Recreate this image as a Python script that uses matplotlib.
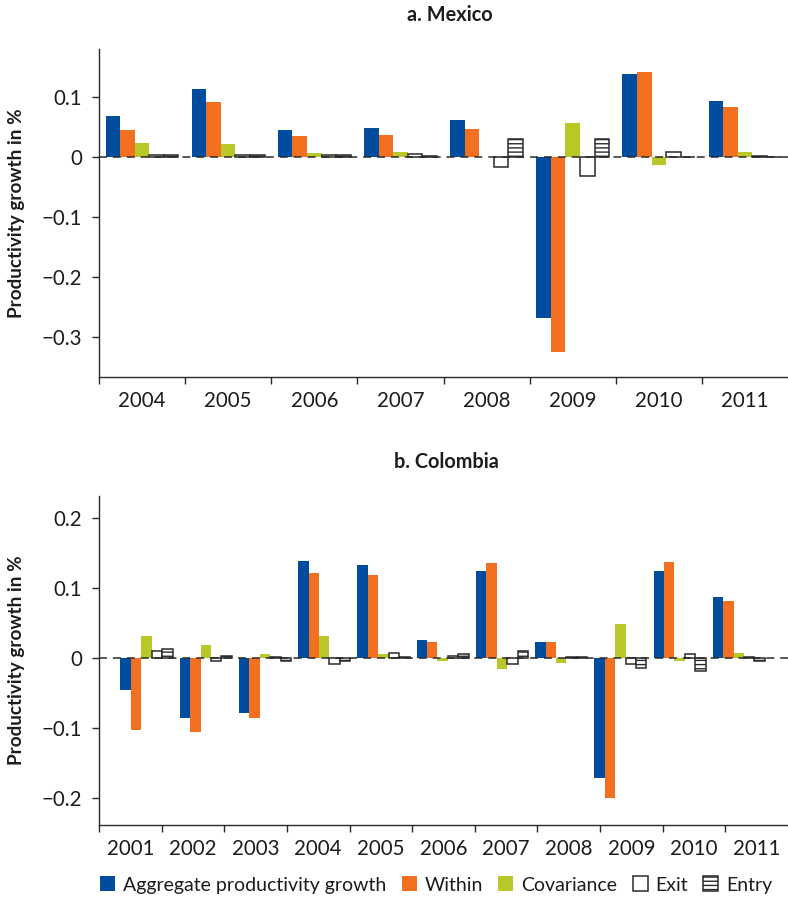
import numpy as np
import matplotlib
matplotlib.use("Agg")
import matplotlib.pyplot as plt
from matplotlib.ticker import FuncFormatter

# decomposition of productivity growth, by year
mex_years = ["2004", "2005", "2006", "2007", "2008", "2009", "2010", "2011"]
mex_agg = [0.068, 0.113, 0.045, 0.049, 0.061, -0.268, 0.138, 0.093]
mex_within = [0.045, 0.091, 0.035, 0.037, 0.047, -0.325, 0.141, 0.083]
mex_cov = [0.023, 0.021, 0.007, 0.009, 0.0, 0.057, -0.014, 0.008]
mex_exit = [0.003, 0.003, 0.003, 0.005, -0.016, -0.032, 0.008, 0.002]
mex_entry = [0.003, 0.003, 0.003, 0.002, 0.030, 0.030, 0.0, 0.0]

col_years = ["2001", "2002", "2003", "2004", "2005", "2006",
             "2007", "2008", "2009", "2010", "2011"]
col_agg = [-0.046, -0.086, -0.079, 0.139, 0.133, 0.025, 0.124, 0.023, -0.171, 0.124, 0.087]
col_within = [-0.103, -0.106, -0.086, 0.121, 0.119, 0.023, 0.135, 0.023, -0.200, 0.137, 0.081]
col_cov = [0.032, 0.019, 0.006, 0.032, 0.006, -0.005, -0.016, -0.007, 0.049, -0.005, 0.007]
col_exit = [0.010, -0.005, 0.002, -0.009, 0.007, 0.003, -0.009, 0.002, -0.009, 0.005, 0.002]
col_entry = [0.013, 0.003, -0.005, -0.005, 0.002, 0.005, 0.010, 0.002, -0.014, -0.019, -0.005]

labels = ["Aggregate productivity growth", "Within", "Covariance", "Exit", "Entry"]

BLUE = "#004c9f"
ORANGE = "#f37021"
GREEN = "#b9c828"
DARK = "#2a2a2a"
TEXT = "#1e1b1c"

plt.rcParams["font.family"] = ["Lato", "DejaVu Sans"]
plt.rcParams["hatch.linewidth"] = 1.0
plt.rcParams["hatch.color"] = DARK


def fmt(v, pos):
    if abs(v) < 1e-9:
        return "0"
    return ("%g" % round(v, 2)).replace("-", "\u2212")


def draw_panel(ax, years, series, slots, width, ylim, yticks):
    styles = [dict(color=BLUE), dict(color=ORANGE), dict(color=GREEN),
              dict(facecolor="white", edgecolor=DARK, linewidth=1.1),
              dict(facecolor="white", edgecolor=DARK, linewidth=1.1, hatch="----")]
    for k, (vals, st) in enumerate(zip(series, styles)):
        ax.bar(slots + (k - 2) * width, vals, width, label=labels[k], zorder=2, **st)

    n = len(years)
    ax.axhline(0, color=DARK, lw=1.1, dashes=(5.2, 3.9), zorder=3)
    ax.set_xlim(-0.5, n - 0.5)
    ax.set_ylim(*ylim)
    ax.set_yticks(yticks)
    ax.yaxis.set_major_formatter(FuncFormatter(fmt))

    ax.set_xticks(np.arange(n))
    ax.set_xticklabels(years)
    ax.set_xticks(np.arange(n) - 0.5, minor=True)
    ax.tick_params(axis="x", which="major", length=0, pad=10, labelsize=14.8, colors=TEXT)
    ax.tick_params(axis="x", which="minor", length=5, width=1.0, direction="out", color=DARK)
    ax.tick_params(axis="y", length=5, width=1.0, pad=7, labelsize=14.8, colors=TEXT)
    ax.tick_params(axis="y", color=DARK)

    for s in ["top", "right"]:
        ax.spines[s].set_visible(False)
    for s in ["left", "bottom"]:
        ax.spines[s].set_color(DARK)
        ax.spines[s].set_linewidth(1.0)

    ax.set_ylabel("Productivity growth in %", fontsize=13.6, fontweight="bold", color=TEXT)
    ax.yaxis.set_label_coords(-0.1074, 0.5)


def main():
    fig = plt.figure(figsize=(7.88, 8.98), dpi=100)
    left, width = 99 / 788, 689 / 788
    ax1 = fig.add_axes([left, 1 - 377 / 898, width, 328 / 898])
    ax2 = fig.add_axes([left, 1 - 825 / 898, width, 329 / 898])

    draw_panel(ax1, mex_years,
               [mex_agg, mex_within, mex_cov, mex_exit, mex_entry],
               np.arange(len(mex_years)), 0.169,
               (-0.3667, 0.18), [-0.3, -0.2, -0.1, 0, 0.1])

    # Colombian bars sit on a slightly tighter pitch than the year slots
    col_slots = 0.26 + 0.9455 * np.arange(len(col_years))
    draw_panel(ax2, col_years,
               [col_agg, col_within, col_cov, col_exit, col_entry],
               col_slots, 0.1667,
               (-0.2386, 0.2314), [-0.2, -0.1, 0, 0.1, 0.2])

    fig.text(450 / 788, 1 - 15 / 898, "a. Mexico", ha="center", va="center",
             fontsize=14.3, fontweight="bold", color=TEXT)
    fig.text(446 / 788, 1 - 462 / 898, "b. Colombia", ha="center", va="center",
             fontsize=14.3, fontweight="bold", color=TEXT)

    handles, labs = ax2.get_legend_handles_labels()
    fig.legend(handles, labs, loc="center left", bbox_to_anchor=(100 / 788, 1 - 885 / 898),
               ncol=5, frameon=False, fontsize=14, handlelength=0.77, handleheight=0.77,
               handletextpad=0.42, columnspacing=0.78, borderpad=0, borderaxespad=0,
               labelcolor=TEXT)

    fig.savefig("out.png", dpi=100)


if __name__ == "__main__":
    main()
